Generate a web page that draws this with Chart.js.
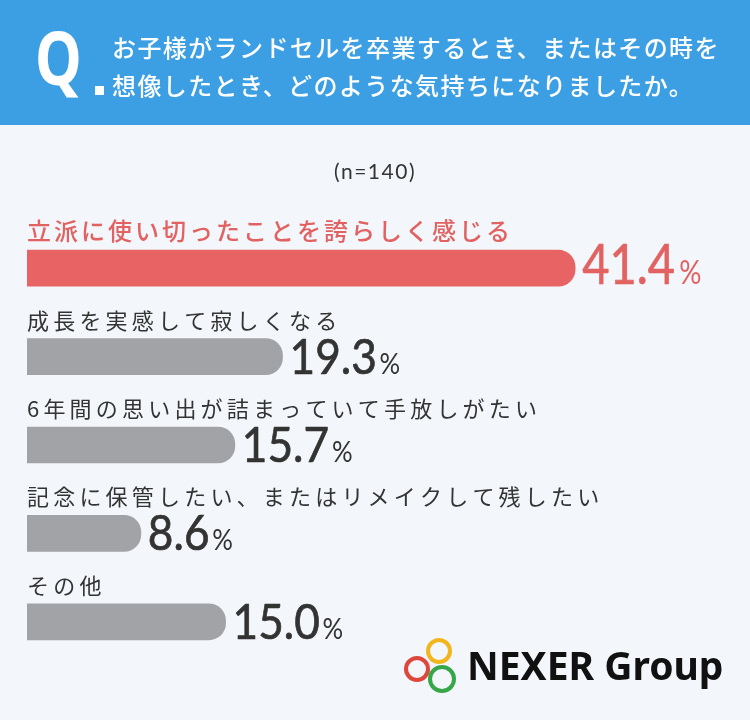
<!DOCTYPE html>
<html>
<head>
<meta charset="utf-8">
<script src="https://cdn.jsdelivr.net/npm/chart.js@4.4.1/dist/chart.umd.min.js"></script>
<style>
  html, body { margin: 0; padding: 0; background: #f3f6fa; }
  #wrap { width: 750px; height: 720px; }
</style>
</head>
<body>
<div id="wrap"><canvas id="c" width="750" height="720"></canvas></div>
<script>
// ---- data ----
const titleLines = [
  "お子様がランドセルを卒業するとき、またはその時を",
  "想像したとき、どのような気持ちになりましたか。"
];
const sampleNote = "(n=140)";
const categories = [
  "立派に使い切ったことを誇らしく感じる",
  "成長を実感して寂しくなる",
  "6年間の思い出が詰まっていて手放しがたい",
  "記念に保管したい、またはリメイクして残したい",
  "その他"
];
const values = [41.4, 19.3, 15.7, 8.6, 15.0];
const brand = "NEXER Group";

const RED = "#e86464";
const RED_TEXT = "#e26262";
const GRAY = "#a2a3a7";
const DARK = "#333333";

const decor = {
  id: "decor",
  beforeDraw(chart) {
    const ctx = chart.ctx;
    ctx.save();
    ctx.fillStyle = "#f3f6fa";
    ctx.fillRect(0, 0, chart.width, chart.height);
    // header band
    ctx.fillStyle = "#3c9fe4";
    ctx.fillRect(0, 0, chart.width, 125);
    // Q
    ctx.fillStyle = "#ffffff";
    ctx.save();
    ctx.translate(35, 85);
    ctx.scale(0.8, 1);
    ctx.font = "bold 74px 'Noto Sans', sans-serif";
    ctx.textBaseline = "alphabetic";
    ctx.fillText("Q", 0, 0);
    ctx.restore();
    ctx.fillRect(95, 86, 9, 9);
    // title
    ctx.font = "500 24px 'Noto Sans CJK JP', sans-serif";
    ctx.textBaseline = "middle";
    ctx.letterSpacing = "1.4px";
    ctx.fillText(titleLines[0], 112, 48);
    ctx.fillText(titleLines[1], 112, 86);
    ctx.letterSpacing = "0px";
    // n
    ctx.fillStyle = DARK;
    ctx.font = "21px Lato, sans-serif";
    ctx.textAlign = "center";
    ctx.letterSpacing = "1.5px";
    ctx.fillText(sampleNote, 375, 172);
    ctx.letterSpacing = "0px";
    ctx.restore();
  },
  afterDatasetsDraw(chart) {
    const ctx = chart.ctx;
    const meta = chart.getDatasetMeta(0);
    ctx.save();
    meta.data.forEach((bar, i) => {
      const top = bar.y - bar.height / 2;
      const bottom = bar.y + bar.height / 2;
      // category label
      ctx.textAlign = "left";
      ctx.textBaseline = "alphabetic";
      if (i === 0) {
        ctx.fillStyle = RED_TEXT;
        ctx.font = "500 24px 'Noto Sans CJK JP', sans-serif";
        ctx.letterSpacing = "3px";
      } else {
        ctx.fillStyle = DARK;
        ctx.font = "400 22px 'Noto Sans CJK JP', sans-serif";
        ctx.letterSpacing = "4.2px";
      }
      ctx.fillText(categories[i], chart.chartArea.left, top - 10);
      ctx.letterSpacing = "0px";
      // percentage
      const num = values[i].toFixed(1);
      const big = i === 0;
      const fs = big ? 56 : 48;
      const ps = big ? 33 : 28;
      const sx = big ? 0.84 : 0.92;
      const col = big ? RED_TEXT : DARK;
      ctx.fillStyle = col;
      ctx.strokeStyle = col;
      ctx.lineWidth = 0.7;
      ctx.lineJoin = "round";
      const x0 = bar.x + 7;
      const yb = bottom - (big ? 2 : 1);
      ctx.save();
      ctx.translate(x0, yb);
      ctx.scale(sx, 1);
      ctx.font = "400 " + fs + "px Lato, sans-serif";
      ctx.fillText(num, 0, 0);
      ctx.strokeText(num, 0, 0);
      const w = ctx.measureText(num).width;
      ctx.font = "400 " + ps + "px Lato, sans-serif";
      ctx.fillText("%", w + (big ? 5 : 3), 0);
      ctx.restore();
    });
    ctx.restore();
  },
  afterDraw(chart) {
    const ctx = chart.ctx;
    ctx.save();
    ctx.lineWidth = 4;
    const rings = [
      [417, 669, 11, "#e0473c"],
      [439, 651, 11, "#f2b51c"],
      [442, 679, 12, "#37a649"]
    ];
    rings.forEach(r => {
      ctx.strokeStyle = r[3];
      ctx.beginPath();
      ctx.arc(r[0], r[1], r[2], 0, Math.PI * 2);
      ctx.stroke();
    });
    ctx.fillStyle = "#111111";
    ctx.font = "bold 39px 'Noto Sans', sans-serif";
    ctx.textBaseline = "alphabetic";
    ctx.textAlign = "left";
    ctx.fillText(brand, 467, 680);
    ctx.restore();
  }
};

new Chart(document.getElementById("c"), {
  type: "bar",
  data: {
    labels: categories,
    datasets: [{
      data: values,
      backgroundColor: values.map((v, i) => i === 0 ? RED : GRAY),
      borderRadius: 17,
      borderSkipped: "start",
      barThickness: 36
    }]
  },
  options: {
    indexAxis: "y",
    responsive: false,
    animation: false,
    layout: { padding: { left: 27, right: 61, top: 224, bottom: 54 } },
    plugins: { legend: { display: false }, tooltip: { enabled: false } },
    scales: {
      x: { display: false, min: 0, max: 50 },
      y: { display: false }
    }
  },
  plugins: [decor]
});
</script>
</body>
</html>
